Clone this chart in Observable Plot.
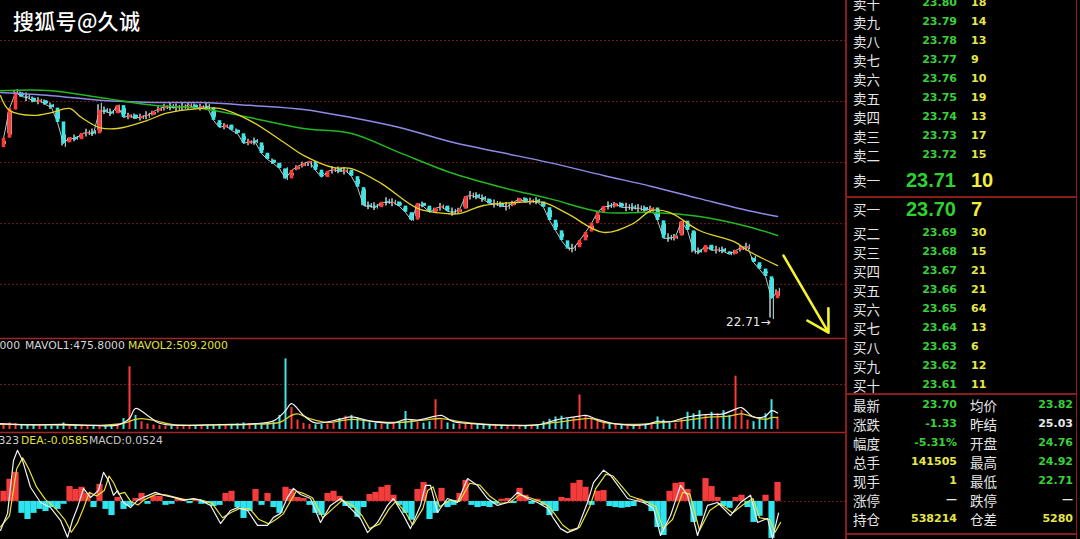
<!DOCTYPE html>
<html><head><meta charset="utf-8">
<script src="https://cdn.jsdelivr.net/npm/d3@7"></script>
<script src="https://cdn.jsdelivr.net/npm/@observablehq/plot@0.6"></script>
<style>
body{margin:0;background:#000;}
#root{position:relative;width:1080px;height:539px;overflow:hidden;background:#000;font-family:"DejaVu Sans",sans-serif;}
.pl{position:absolute;left:0;}
.t{position:absolute;white-space:nowrap;line-height:16px;height:16px;}
.cn{font-family:"Noto Sans CJK SC",sans-serif;font-size:13.5px;color:#e4e4e4;}
.num{font-family:"DejaVu Sans",sans-serif;font-weight:bold;font-size:11px;}
.big{font-family:"Liberation Sans",sans-serif;font-weight:bold;font-size:20px;line-height:22px;height:22px;}
.lbl{position:absolute;white-space:nowrap;font-family:"DejaVu Sans",sans-serif;font-size:10.8px;line-height:14px;}
.sep{position:absolute;background:#8c1c1c;}
</style></head>
<body><div id="root"></div>
<script>
// ---------- data ----------
const opens = [28.30,28.60,29.50,30.05,29.92,29.88,29.75,29.80,29.66,29.56,
29.12,28.45,28.63,28.55,28.74,28.80,28.74,29.50,29.44,29.38,
29.64,29.25,29.34,29.22,29.30,29.32,29.46,29.54,29.62,29.55,
29.57,29.60,29.66,29.54,29.62,29.57,29.16,28.93,29.02,28.86,
28.74,28.42,28.52,28.45,28.12,27.90,27.80,27.62,27.30,27.58,
27.69,27.80,27.85,27.58,27.34,27.55,27.61,27.52,27.58,27.37,
27.02,26.46,26.43,26.38,26.58,26.52,26.56,26.43,26.22,25.98,
26.52,26.43,26.22,26.37,26.43,26.25,26.22,26.33,26.75,26.78,
26.70,26.65,26.48,26.52,26.40,26.44,26.54,26.68,26.54,26.62,
26.56,26.38,25.98,25.64,25.32,25.07,25.10,25.32,25.60,25.87,
26.22,26.45,26.40,26.52,26.38,26.40,26.34,26.38,26.28,26.37,
25.96,25.42,25.38,25.47,25.95,25.64,25.02,24.94,25.18,25.00,
25.05,24.97,24.88,25.02,25.10,24.76,24.62,24.42,24.17,23.47];
const closes = [28.59,29.55,30.06,29.93,29.90,29.77,29.81,29.68,29.58,29.10,
28.43,28.62,28.56,28.75,28.78,28.75,29.49,29.45,29.39,29.65,
29.26,29.33,29.23,29.29,29.33,29.45,29.55,29.61,29.58,29.58,
29.61,29.65,29.55,29.61,29.58,29.17,28.94,29.01,28.85,28.75,
28.43,28.50,28.46,28.11,27.92,27.79,27.63,27.31,27.57,27.70,
27.79,27.86,27.57,27.35,27.54,27.60,27.54,27.57,27.38,27.03,
26.45,26.42,26.39,26.55,26.55,26.55,26.42,26.23,25.97,26.51,
26.42,26.23,26.36,26.42,26.26,26.23,26.32,26.74,26.77,26.71,
26.64,26.51,26.51,26.42,26.42,26.55,26.67,26.55,26.61,26.55,
26.39,25.97,25.65,25.33,25.08,25.08,25.33,25.59,25.88,26.23,
26.42,26.42,26.51,26.39,26.39,26.36,26.36,26.29,26.36,25.97,
25.40,25.40,25.46,25.94,25.65,25.01,24.95,25.17,25.01,25.04,
24.98,24.89,25.01,25.11,25.14,24.63,24.41,24.18,23.48,23.70];
// notable wicks: [index, low, high]
const wicks = [[2,29.90,30.25],[10,28.21,28.80],[16,28.70,29.81],[19,29.30,29.75],[47,27.15,27.75],
[51,27.55,27.95],[60,26.30,27.05],[68,25.85,26.30],[69,25.95,26.60],[77,26.25,26.80],[94,24.90,25.20],
[113,25.40,26.05],[115,24.80,25.70],[121,24.75,25.05],[125,24.55,24.92],[128,22.71,24.20],[129,23.45,23.90]];
const gridPrices = [31.72,29.77,27.82,25.87,23.93];
const maBlue = [[-0.5,30.06],[8,29.96],[16,29.81],[25,29.74],[33,29.74],[41,29.65],[50,29.52],[58,29.26],[66,28.94],
[75,28.46],[83,28.14],[91,27.82],[100,27.41],[108,27.06],[116,26.67],[124,26.29],[129,26.10]];
const maGreen = [[-0.5,30.12],[8,30.12],[16,29.90],[25,29.65],[33,29.55],[41,29.26],[50,28.91],[58,28.75],[66,28.14],
[75,27.47],[83,27.03],[91,26.67],[100,26.23],[108,26.23],[116,26.10],[124,25.78],[129,25.49]];
const maYellow = [[-0.5,29.96],[1,29.49],[5,29.33],[8,29.42],[11,29.55],[13,29.26],[16,28.94],[19,28.91],[24,29.17],
[27,29.39],[33,29.55],[36,29.55],[41,29.17],[47,28.43],[50,28.05],[55,27.66],[58,27.63],[63,27.15],[69,26.36],
[74,26.19],[76,26.19],[80,26.45],[86,26.55],[90,26.55],[94,26.19],[100,25.59],[105,25.88],[108,26.29],[111,26.23],
[116,25.65],[122,25.27],[124,25.01],[129,24.53]];
const lowMark = {i:128, p:22.71, label:"22.71→"};
const trendArrow = {x1:130, y1:24.85, x2:137.5, y2:22.39};

const volumes = [350,420,380,300,280,260,250,240,230,300,
420,320,280,260,250,240,260,240,230,250,
700,4000,900,500,350,280,250,230,220,240,
230,220,250,260,240,300,330,300,320,360,
420,380,330,350,420,450,900,4500,1400,600,
400,330,300,320,350,400,700,850,900,750,
600,420,380,350,330,400,500,1150,600,450,
400,500,1900,600,420,350,320,450,380,330,
300,280,270,260,250,260,270,250,260,300,
500,650,800,850,700,750,2200,900,700,600,
400,350,330,300,290,280,300,320,350,800,
600,400,380,700,1100,1000,1200,900,1100,1000,
1200,900,3400,1200,600,500,700,1000,1900,800];
const mavol1 = [[-0.5,380],[5,300],[10,330],[15,260],[19,280],[21,700],[22,1340],[24,900],[26,400],[30,260],[36,320],
[42,380],[45,550],[47,1200],[48,1650],[50,900],[52,420],[56,650],[58,800],[61,550],[65,420],[67,650],[69,600],[72,850],
[73,900],[75,500],[78,380],[84,270],[89,290],[92,600],[94,750],[96,850],[97,900],[99,650],[102,360],[107,310],[109,520],
[111,500],[114,800],[117,950],[120,1000],[122,1300],[123,1400],[125,800],[127,850],[128,1200],[129,1050]];
const mavol2 = [[-0.5,330],[8,300],[16,270],[20,400],[22,650],[23,700],[25,600],[28,330],[35,280],[42,340],[46,450],
[48,900],[49,1000],[51,700],[54,450],[58,650],[62,500],[66,450],[70,600],[73,700],[76,500],[80,340],[88,280],[92,450],
[96,650],[98,700],[100,450],[105,320],[110,450],[114,600],[118,800],[121,850],[123,1000],[125,800],[127,650],[128,760],[129,760]];
const volLabel = ["000", "MAVOL1:475.8000", "MAVOL2:509.2000"];

const macdHist = [0.028,0.061,0.080,-0.033,-0.050,-0.033,-0.022,-0.028,-0.017,-0.022,
-0.008,0.041,0.033,0.039,0.022,-0.017,0.047,-0.022,-0.039,0.011,
-0.022,-0.014,0.008,0.022,-0.008,0.014,0.014,-0.011,-0.008,0.006,
0.006,-0.006,0.006,-0.008,-0.006,-0.014,-0.011,0.022,0.028,-0.017,
-0.047,-0.028,0.033,-0.011,0.022,-0.017,-0.033,0.039,0.033,0.011,
0.008,-0.011,-0.033,-0.039,0.022,0.028,0.014,-0.014,-0.019,-0.044,
-0.017,0.019,0.025,0.039,0.044,0.017,-0.011,-0.033,-0.052,0.033,
0.052,-0.050,-0.033,0.036,-0.017,-0.011,0.022,0.058,-0.011,-0.017,
-0.014,-0.017,-0.008,0.006,0.008,-0.006,0.036,0.017,-0.008,0.006,
-0.011,-0.039,-0.028,0.011,0.008,0.050,0.058,0.039,-0.011,0.028,
0.030,-0.014,-0.017,-0.019,-0.017,-0.014,0.006,-0.006,-0.028,-0.072,
-0.094,0.028,0.050,0.052,0.033,-0.058,-0.041,0.063,0.041,0.011,
-0.014,-0.019,0.011,0.017,-0.017,-0.058,-0.041,0.017,-0.102,0.0524];
const dif = [[-0.5,-0.080],[0.67,-0.033],[1.67,0.113],[2.33,0.141],[3.17,0.113],[4.5,0.039],[6.17,-0.003],[7.83,-0.017],
[9.5,-0.052],[10.67,-0.099],[11.5,-0.052],[12.33,-0.017],[13.33,0.036],[14.5,0.011],[15.83,0.030],[16.67,0.080],[17.5,0.058],
[18.33,0.017],[19,0.030],[20,-0.003],[21.17,-0.017],[22.33,0.003],[23.33,0.011],[25.33,0.025],[26.67,0.017],[28.33,0.011],
[30,0.003],[31.67,0.008],[32.83,0.003],[34.5,-0.011],[36.17,-0.061],[37.83,-0.025],[39,-0.017],[40.67,-0.025],[42.33,-0.066],
[44,-0.066],[45,-0.044],[46.17,-0.033],[47.33,0.011],[48.33,0.036],[49.5,0.019],[51.17,0.008],[52.83,-0.058],[54.5,-0.011],
[56.17,0.008],[57.83,-0.019],[59.5,-0.047],[60.67,-0.086],[62.33,-0.058],[64,-0.011],[65,0.008],[66.67,-0.039],[67.83,-0.075],
[69.5,-0.011],[70.33,0.044],[71.17,0.044],[72.33,-0.030],[74,0.008],[75.67,-0.003],[77.33,0.063],[79,0.044],[80.67,0.008],
[82.33,-0.011],[84,-0.003],[85.67,0.025],[87.33,0.008],[89,-0.003],[90.67,-0.019],[91.67,-0.047],[92.83,-0.075],[94,-0.086],
[95.67,-0.075],[97.33,-0.003],[98.33,0.052],[100,0.086],[101.17,0.072],[104,0.008],[106.67,-0.003],[108.33,-0.019],
[109.5,-0.094],[111.17,-0.039],[112.83,0.044],[114,0.017],[115.67,-0.094],[117.33,-0.011],[119,-0.003],[121.17,-0.039],
[122.83,-0.003],[124.5,0.017],[125.67,-0.058],[127.33,-0.047],[128.17,-0.102],[129.17,-0.032]];
const dea = [[-0.5,-0.07],[1,-0.04],[2.2,0.09],[3.2,0.12],[4.2,0.09],[5.5,0.04],[7,0.005],[8.7,-0.02],[10.2,-0.05],
[11.3,-0.085],[12.3,-0.06],[13.3,-0.02],[14.3,0.025],[15.5,0.015],[16.8,0.03],[17.6,0.07],[18.4,0.05],[19.2,0.02],
[20.2,0.025],[21.2,0.0],[22.4,-0.01],[23.5,0.005],[25.5,0.02],[27,0.018],[28.5,0.012],[30.2,0.005],[32,0.006],[33,0.004],
[34.8,-0.006],[36.5,-0.045],[38,-0.03],[39.3,-0.02],[41,-0.02],[42.6,-0.05],[44.2,-0.062],[45.4,-0.05],[46.6,-0.035],
[47.8,0.0],[48.8,0.028],[50,0.022],[51.5,0.01],[53.2,-0.045],[54.9,-0.02],[56.5,0.004],[58.2,-0.012],[59.8,-0.04],
[61,-0.075],[62.7,-0.062],[64.3,-0.02],[65.4,0.0],[67,-0.03],[68.2,-0.065],[69.9,-0.02],[70.7,0.03],[71.6,0.04],
[72.7,-0.015],[74.4,0.004],[76,0.0],[77.7,0.05],[79.4,0.045],[81,0.015],[82.7,-0.005],[84.4,-0.003],[86,0.018],
[87.7,0.01],[89.4,0.0],[91,-0.015],[92,-0.038],[93.2,-0.065],[94.4,-0.08],[96,-0.072],[97.7,-0.015],[98.7,0.035],
[100.4,0.075],[101.6,0.07],[104.4,0.015],[107,0.0],[108.7,-0.014],[109.9,-0.075],[111.5,-0.05],[113.2,0.025],[114.4,0.02],
[116,-0.08],[117.7,-0.025],[119.4,-0.006],[121.5,-0.032],[123.2,-0.01],[124.9,0.008],[126,-0.045],[127.7,-0.05],
[128.6,-0.085],[129.5,-0.0585]];
const macdLabel = ["DIF:-0.0323", "DEA:-0.0585", "MACD:0.0524"];

const title = "搜狐号@久诚";
const sellLabels = ["卖十","卖九","卖八","卖七","卖六","卖五","卖四","卖三","卖二","卖一"];
const sellPrices = [23.80,23.79,23.78,23.77,23.76,23.75,23.74,23.73,23.72,23.71];
const sellVols = [18,14,13,9,10,19,13,17,15,10];
const buyLabels = ["买一","买二","买三","买四","买五","买六","买七","买八","买九","买十"];
const buyPrices = [23.70,23.69,23.68,23.67,23.66,23.65,23.64,23.63,23.62,23.61];
const buyVols = [7,30,15,21,21,64,13,6,12,11];
const statLabelsL = ["最新","涨跌","幅度","总手","现手","涨停","持仓"];
const statValuesL = ["23.70","-1.33","-5.31%","141505","1","—","538214"];
const statLabelsR = ["均价","昨结","开盘","最高","最低","跌停","仓差"];
const statValuesR = ["23.82","25.03","24.76","24.92","22.71","—","5280"];
const footLabels = ["北京","价格","现手"];

// ---------- colors ----------
const RED = "#ff3838", CYAN = "#3ce6e6", GRID = "#741c1c", SEP = "#a32424";
const GREEN = "#3ad03a", YELLOW = "#e6e64a", WHITE = "#e6e6e6";
const statColorsL = [GREEN, GREEN, GREEN, YELLOW, YELLOW, WHITE, YELLOW];
const statColorsR = [GREEN, WHITE, GREEN, GREEN, GREEN, WHITE, YELLOW];

// ---------- build ----------
const root = document.getElementById("root");
const wickMap = new Map(wicks.map(w => [w[0], w]));
const candles = closes.map((c, i) => {
  const o = opens[i], w = wickMap.get(i);
  return {i, o, c, up: c >= o, lo: w ? w[1] : Math.min(o, c), hi: w ? w[2] : Math.max(o, c)};
});
const X = {domain: [-0.5, 140.33], axis: null};
const base = {width: 845, marginLeft: 0, marginRight: 0, marginTop: 0, color: {type: "identity"},
  style: {background: "transparent", overflow: "hidden"}};

function place(el, top) { el.classList.add("pl"); el.style.top = top + "px"; root.appendChild(el); }

const main = Plot.plot({...base, height: 340, marginBottom: 2, x: X, y: {domain: [22.2, 33.0], axis: null},
  marks: [
    Plot.ruleY(gridPrices, {stroke: GRID, strokeDasharray: "2,2"}),
    Plot.ruleY([22.2], {stroke: SEP, strokeWidth: 1.5}),
    Plot.line(candles, {x: "i", y: "c", stroke: "#cfeeee", strokeWidth: 1, strokeOpacity: 0.85}),
    Plot.ruleX(candles, {x: "i", y1: "lo", y2: "hi", stroke: "#d8eeee", strokeWidth: 1.3, insetTop: -4.5, insetBottom: -4.5, dx: -1.5}),
    Plot.ruleX(candles, {x: "i", y1: "lo", y2: "hi", stroke: "#bfeeee", strokeWidth: 1, insetTop: -3, insetBottom: -3, dx: 1.8}),
    Plot.ruleX(candles, {x: "i", y1: "o", y2: "c", stroke: d => d.up ? RED : CYAN, strokeWidth: 3.6}),
    Plot.line(maBlue, {x: d => d[0], y: d => d[1], stroke: "#8c8ce8", strokeWidth: 1.5, curve: "catmull-rom"}),
    Plot.line(maGreen, {x: d => d[0], y: d => d[1], stroke: "#22b822", strokeWidth: 1.5, curve: "catmull-rom"}),
    Plot.line(maYellow, {x: d => d[0], y: d => d[1], stroke: "#e2d228", strokeWidth: 1.3, curve: "catmull-rom"}),
    Plot.text([lowMark], {x: "i", y: "p", text: "label", textAnchor: "end", dx: -1, fill: WHITE, fontSize: 12, fontFamily: "DejaVu Sans"}),
    Plot.arrow([trendArrow], {x1: "x1", y1: "y1", x2: "x2", y2: "y2", stroke: "#f4f42c", strokeWidth: 2.6, headLength: 14})
  ]});
place(main, 0);

const volData = volumes.map((v, i) => ({i, v, col: candles[i].up ? RED : CYAN}));
const vol = Plot.plot({...base, height: 96, marginBottom: 2, x: X, y: {domain: [-190, 5800], axis: null},
  marks: [
    Plot.ruleY([2870], {stroke: GRID, strokeDasharray: "2,2"}),
    Plot.ruleY([-190], {stroke: SEP, strokeWidth: 1.5}),
    Plot.ruleX(volData, {x: "i", y1: 0, y2: "v", stroke: "col", strokeWidth: 2}),
    Plot.line(mavol2, {x: d => d[0], y: d => d[1], stroke: "#e0d030", strokeWidth: 1.3, curve: "catmull-rom"}),
    Plot.line(mavol1, {x: d => d[0], y: d => d[1], stroke: "#f2f2f2", strokeWidth: 1.2, curve: "catmull-rom"})
  ]});
place(vol, 338);

const macdData = macdHist.map((m, i) => ({i, m, col: m >= 0 ? "#f43c3c" : "#2ee4ee"}));
const macd = Plot.plot({...base, height: 107, marginBottom: 0, x: X, y: {domain: [-0.105, 0.19], axis: null},
  marks: [
    Plot.ruleY([0], {stroke: GRID, strokeDasharray: "2,2"}),
    Plot.ruleX(macdData, {x: "i", y1: 0, y2: "m", stroke: "col", strokeWidth: 6.2}),
    Plot.line(dea, {x: d => d[0], y: d => d[1], stroke: "#e6e23c", strokeWidth: 1.2}),
    Plot.line(dif, {x: d => d[0], y: d => d[1], stroke: "#f0f0f0", strokeWidth: 1.2})
  ]});
place(macd, 432);

// panel labels
function lbl(text, color, left, top, right) {
  const d = document.createElement("div");
  d.className = "lbl"; d.textContent = text; d.style.color = color; d.style.top = top + "px";
  if (right != null) d.style.right = (1080 - right) + "px"; else d.style.left = left + "px";
  root.appendChild(d); return d;
}
lbl(volLabel[0], "#d6d6d6", null, 339, 20);
lbl(volLabel[1], "#d6d6d6", 25, 339);
lbl(volLabel[2], "#e2e040", 128, 339);
lbl(macdLabel[0], "#d0d0d0", null, 434, 19);
lbl(macdLabel[1], "#e2e040", 21, 434);
lbl(macdLabel[2], "#c8c8c8", 89, 434);

// title
const tt = document.createElement("div");
tt.textContent = title;
Object.assign(tt.style, {position: "absolute", left: "13px", top: "5px", color: "#fff", fontSize: "21px",
  fontFamily: "'Noto Sans CJK SC',sans-serif", fontWeight: "500", letterSpacing: "0.3px", textShadow: "0 0 2px #000"});
root.appendChild(tt);

// right panel separators
function sep(l, t, w, h) { const d = document.createElement("div"); d.className = "sep";
  Object.assign(d.style, {left: l + "px", top: t + "px", width: w + "px", height: h + "px"}); root.appendChild(d); }
sep(845, 0, 1.5, 539);
sep(1076, 0, 1.2, 539);
sep(846, 196, 231, 1.5);
sep(846, 393, 231, 1.5);
sep(846, 533, 231, 1.5);

function txt(text, cls, color, cy, left, right, h) {
  const d = document.createElement("div");
  d.className = "t " + cls; d.textContent = text; d.style.color = color;
  d.style.top = (cy - (h || 16) / 2) + "px";
  if (right != null) { d.style.right = (1080 - right) + "px"; d.style.textAlign = "right"; }
  else d.style.left = left + "px";
  root.appendChild(d);
}
// sell rows
sellLabels.forEach((lab, k) => {
  const isFirst = k === sellLabels.length - 1;
  const cy = isFirst ? 180 : 3 + 19 * k;
  txt(lab, "cn", WHITE, cy, 853);
  if (isFirst) {
    txt(sellPrices[k].toFixed(2), "big", "#2fd02f", cy, null, 956, 22);
    txt(String(sellVols[k]), "big", "#f0f03c", cy, 971, null, 22);
  } else {
    txt(sellPrices[k].toFixed(2), "num", GREEN, cy, null, 957);
    txt(String(sellVols[k]), "num", YELLOW, cy, 971);
  }
});
buyLabels.forEach((lab, k) => {
  const isFirst = k === 0;
  const cy = isFirst ? 208.5 : 233 + 19 * (k - 1);
  txt(lab, "cn", WHITE, cy, 853);
  if (isFirst) {
    txt(buyPrices[k].toFixed(2), "big", "#2fd02f", cy, null, 956, 22);
    txt(String(buyVols[k]), "big", "#f0f03c", cy, 971, null, 22);
  } else {
    txt(buyPrices[k].toFixed(2), "num", GREEN, cy, null, 957);
    txt(String(buyVols[k]), "num", YELLOW, cy, 971);
  }
});
statLabelsL.forEach((lab, k) => {
  const cy = 405 + 19 * k;
  txt(lab, "cn", WHITE, cy, 853);
  txt(statValuesL[k], "num", statColorsL[k], cy, null, 957);
  txt(statLabelsR[k], "cn", WHITE, cy, 970);
  txt(statValuesR[k], "num", statColorsR[k], cy, null, 1073);
});
txt(footLabels[0], "cn", WHITE, 545, 853);
txt(footLabels[1], "cn", WHITE, 545, 958);
txt(footLabels[2], "cn", WHITE, 545, 1040);
</script></body></html>
